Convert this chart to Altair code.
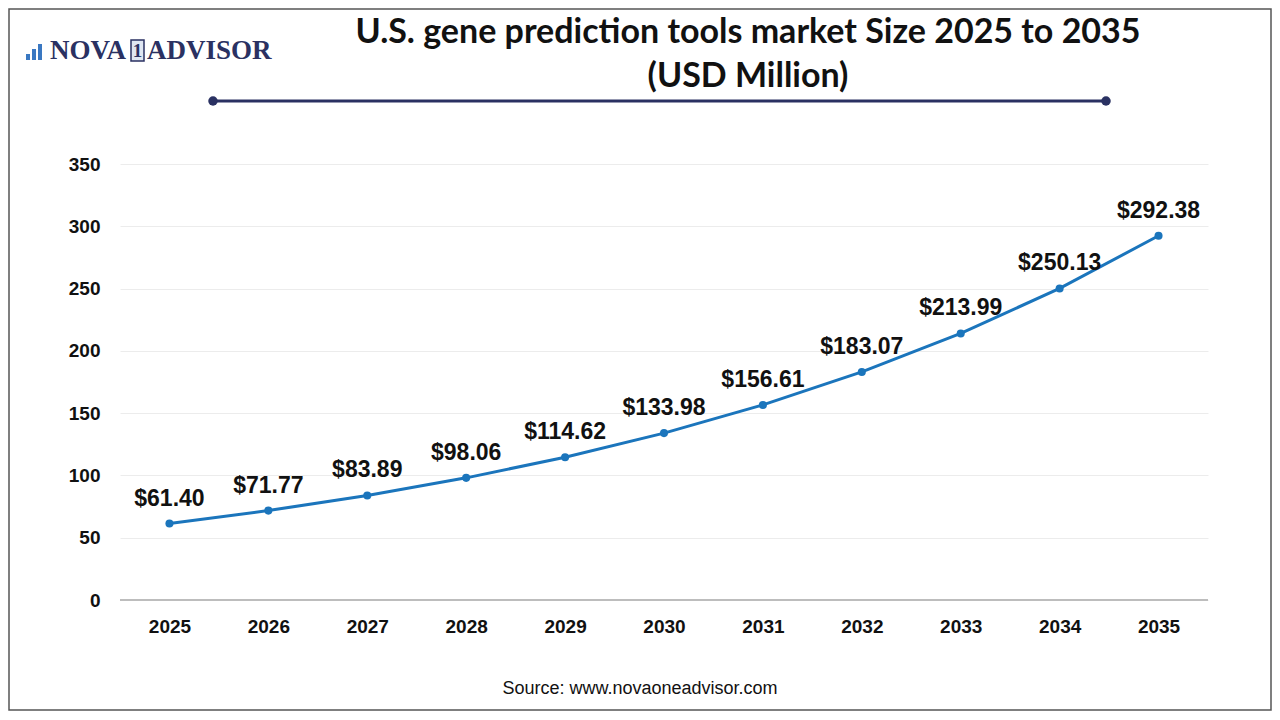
import altair as alt
import pandas as pd

years = ["2025", "2026", "2027", "2028", "2029", "2030", "2031", "2032", "2033", "2034", "2035"]
values = [61.40, 71.77, 83.89, 98.06, 114.62, 133.98, 156.61, 183.07, 213.99, 250.13, 292.38]
labels = ["$61.40", "$71.77", "$83.89", "$98.06", "$114.62", "$133.98", "$156.61",
          "$183.07", "$213.99", "$250.13", "$292.38"]
y_ticks = [0, 50, 100, 150, 200, 250, 300, 350]

df = pd.DataFrame({"year": years, "value": values, "label": labels})

W, H = 1088, 436
FONT = "Liberation Sans"
NAVY = "#2a3162"
LINE = "#1b75bc"

x_enc = alt.X("year:N", sort=years, scale=alt.Scale(type="point", padding=0.5),
              axis=alt.Axis(title=None, labelFont=FONT, labelFontSize=19, labelFontWeight="bold",
                            labelColor="#111", labelPadding=17, ticks=False, domain=False, labelAngle=0))
y_enc = alt.Y("value:Q", scale=alt.Scale(domain=[0, 350], nice=False),
              axis=alt.Axis(title=None, values=y_ticks, labelFont=FONT, labelFontSize=19,
                            labelFontWeight="bold", labelColor="#111", labelPadding=20,
                            ticks=False, domain=False, grid=True, gridColor="#ececec", gridWidth=1))

base = alt.Chart(df)

baseline = alt.Chart(pd.DataFrame({"a": [0]})).mark_rule(color="#bdbdbd", strokeWidth=2).encode(
    y=alt.value(H), x=alt.value(0), x2=alt.value(W))

line = base.mark_line(color=LINE, strokeWidth=3).encode(x=x_enc, y=y_enc)
pts = base.mark_circle(color=LINE, size=65, opacity=1).encode(x=x_enc, y=y_enc)
txt = base.mark_text(font=FONT, fontSize=23, fontWeight="bold", color="#111", dy=-25).encode(
    x=x_enc, y=y_enc, text="label:N")

def vtext(s, x, y, size, weight="bold", font=FONT, color="#111", align="center"):
    return alt.Chart(pd.DataFrame({"t": [s]})).mark_text(
        font=font, fontSize=size, fontWeight=weight, color=color, align=align, baseline="middle"
    ).encode(text="t:N", x=alt.value(x), y=alt.value(y))

title1 = vtext("U.S. gene prediction tools market Size 2025 to 2035", 628, -131, 34, font="Lato")
title2 = vtext("(USD Million)", 628, -87, 34, font="Lato")
source = vtext("Source: www.novaoneadvisor.com", 520, 525, 18, weight="normal")

deco_line = alt.Chart(pd.DataFrame({"a": [0]})).mark_rule(color=NAVY, strokeWidth=3).encode(
    x=alt.value(93), x2=alt.value(986), y=alt.value(-63))
dot_layers = []
for dx in [93, 986]:
    dot_layers.append(alt.Chart(pd.DataFrame({"a": [0]})).mark_circle(color=NAVY, size=90, opacity=1).encode(
        x=alt.value(dx), y=alt.value(-63)))

logo1 = vtext("NOVA", -70, -113, 27, font="Liberation Serif", color=NAVY, align="left")
logo_box = alt.Chart(pd.DataFrame({"a": [0]})).mark_rect(stroke=NAVY, strokeWidth=1.5, fill="#dfe6f2").encode(
    x=alt.value(11), x2=alt.value(24), y=alt.value(-124), y2=alt.value(-103))
logo_one = vtext("1", 17.5, -113, 19, font="Liberation Serif", color=NAVY)
logo2 = vtext("ADVISOR", 27, -113, 27, font="Liberation Serif", color=NAVY, align="left")
bar_layers = []
for bx, bt in [(-94, -110), (-88, -115), (-82, -120)]:
    bar_layers.append(alt.Chart(pd.DataFrame({"a": [0]})).mark_rect(color="#3a78c2").encode(
        x=alt.value(bx), x2=alt.value(bx + 4), y=alt.value(bt), y2=alt.value(-104)))

border = alt.Chart(pd.DataFrame({"a": [0]})).mark_rect(fill=None, stroke="#555", strokeWidth=1.5).encode(
    x=alt.value(-111), x2=alt.value(1151), y=alt.value(-155), y2=alt.value(546))

chart = alt.layer(
    border, baseline, line, pts, txt, title1, title2, source, deco_line, *dot_layers,
    logo1, logo_box, logo_one, logo2, *bar_layers
).properties(
    width=W, height=H,
    autosize=alt.AutoSizeParams(type="none"),
    padding={"left": 112, "top": 156, "right": 64, "bottom": 112},
    background="white",
).configure_view(stroke=None)

chart.save("out.html", embed_options={"renderer": "svg", "actions": False})
